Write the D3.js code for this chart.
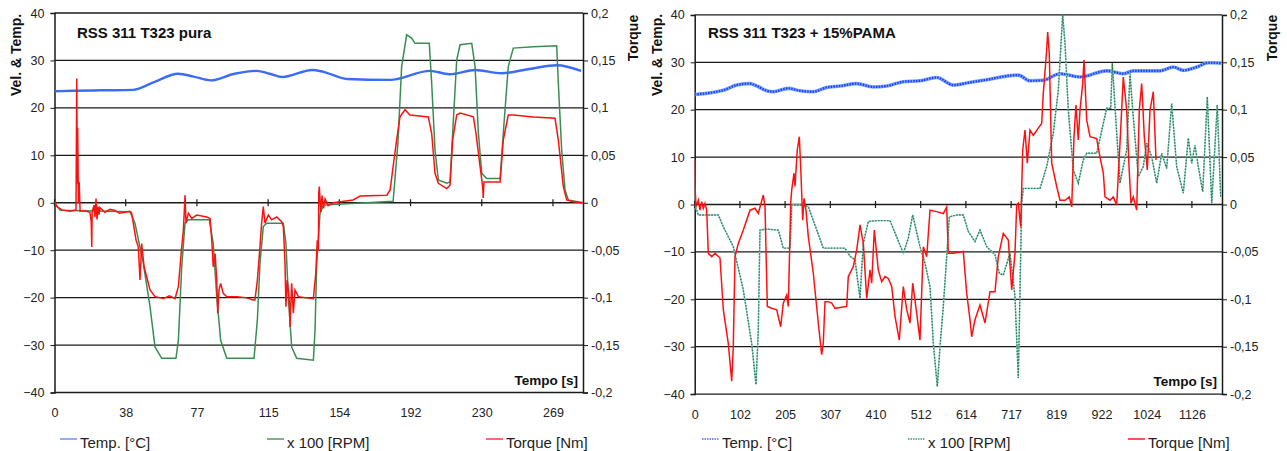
<!DOCTYPE html>
<html>
<head>
<meta charset="utf-8">
<script src="https://cdn.jsdelivr.net/npm/d3@7"></script>
<style>
  body { margin: 0; background: #fff; }
  svg { display: block; font-family: Arial, "Liberation Sans", sans-serif; }
</style>
</head>
<body>
<svg id="chart" width="1287" height="451"></svg>
<script>
// axis ticks
const yTicks = [40, 30, 20, 10, 0, -10, -20, -30, -40];
const torqueTicks = [0.2, 0.15, 0.1, 0.05, 0, -0.05, -0.1, -0.15, -0.2];
const xTicksLeft = [0, 38.4, 76.8, 115.2, 153.6, 192, 230.4, 268.8];
const xTicksRight = [0, 102.4, 204.8, 307.2, 409.6, 512, 614.4, 716.8, 819.2, 921.6, 1024, 1126.4];

const legendNames = ["Temp. [°C]", "x 100 [RPM]", "Torque [Nm]"];

// left chart: RSS 311 T323 pura   [time s, value]
const leftTemp = [
  [0, 23.5], [10, 23.6], [25, 23.7], [42.3, 23.8], [54, 25.5], [66.6, 27.2], [75, 26.6],
  [84.4, 25.8], [97, 27.2], [109, 27.8], [116, 27.2], [123, 26.5], [139, 28.0],
  [145, 27.6], [157.7, 26.1], [181, 25.9], [202.5, 27.8], [213, 27.1], [227, 28.0],
  [241, 27.3], [256, 28.2], [271, 29.0], [284, 27.8]
];
const leftRpm = [
  [0, 0], [3, -1.6], [40.7, -1.9], [43.4, -4.3], [47.9, -12.8], [51.5, -21.9], [54.2, -30.4],
  [57.8, -32.8], [65.5, -32.8], [66.8, -29], [68.6, -13.5], [70.4, -4.3], [72.2, -3.6],
  [83.5, -3.6], [85.6, -8.6], [87.5, -19.8], [89.6, -29], [92.9, -32.8], [107.6, -32.8],
  [109.4, -24.7], [110.8, -12.8], [112.6, -5], [114.4, -4.3], [123.4, -4.3], [124.8, -8.6],
  [126.1, -19.8], [127.9, -30.4], [130.6, -32.8], [139.6, -33.2], [140.5, -26.8],
  [141.4, -12.8], [143.2, -2.2], [145, -0.5], [182.6, 0.3], [185.2, 12.6], [187.2, 28.7],
  [189.9, 35.4], [192.6, 34.7], [194.4, 33.6], [202.1, 33.6], [203.4, 25.2], [205.2, 11.1],
  [207, 4.8], [211.5, 4.1], [213.3, 4.4], [214.7, 14.6], [216.9, 30.1], [218.7, 33.3],
  [225, 33.6], [226.8, 28.7], [228.6, 14.6], [230.4, 6.2], [233.1, 5.1], [240.3, 5.1],
  [242, 14.6], [244.7, 28.7], [247.4, 32.6], [258.2, 32.9], [270.8, 33.1], [271.7, 25.2],
  [273.5, 11.1], [275.3, 2.7], [277.1, 0.6], [285, 0]
];
const leftTorque = [
  [0, 0.0015], [1.3, -0.004], [4, -0.0075], [8.4, -0.009], [11.6, -0.0075], [12, 0.131],
  [12.3, 0.02], [12.5, 0.079], [12.9, 0], [13.3, 0.022], [13.8, -0.009], [16.4, -0.0085],
  [19.1, -0.01], [19.8, -0.02], [20.1, -0.0465], [20.3, -0.01], [21.3, -0.0025],
  [21.8, -0.015], [22.4, 0.0045], [22.9, -0.0175], [23.5, -0.004], [24, -0.0125],
  [24.5, -0.005], [27.2, -0.01], [30, -0.007], [32.6, -0.008], [35, -0.011], [38, -0.01],
  [40.7, -0.009], [41.6, -0.011], [44, -0.0395], [45.2, -0.0465], [46.1, -0.0815],
  [47, -0.043], [48.3, -0.0675], [49.7, -0.078], [51.5, -0.092], [54.2, -0.099],
  [58.7, -0.101], [62, -0.098], [65, -0.101], [66.8, -0.0885], [68.6, -0.0465], [69.5, -0.029],
  [70.4, 0.008], [70.9, -0.0215], [72.2, -0.011], [74, -0.0165], [76.7, -0.013],
  [82.1, -0.015], [83.9, -0.0165], [84.8, -0.0395], [85.6, -0.0675], [86.6, -0.0535],
  [87.5, -0.0815], [88, -0.1165], [88.7, -0.092], [89.6, -0.085], [91, -0.0955],
  [92.9, -0.099], [98.3, -0.099], [103, -0.1], [107.2, -0.1025], [108.1, -0.1025],
  [109.4, -0.0815], [110.8, -0.0465], [111.7, -0.0215], [112.6, -0.004], [113.5, -0.0215],
  [115.3, -0.013], [117.1, -0.018], [119.8, -0.015], [122.5, -0.02], [123.4, -0.025],
  [124.3, -0.064], [124.8, -0.1095], [125.5, -0.0815], [126.6, -0.1025], [127, -0.131],
  [127.9, -0.085], [128.8, -0.1165], [129.7, -0.092], [131.5, -0.099], [135, -0.1],
  [139.6, -0.101], [140.9, -0.0745], [141.7, -0.0395], [142.3, -0.05], [142.5, 0.01],
  [142.8, 0.017], [143.6, -0.01], [144.3, 0.0075], [145.1, -0.006], [145.9, 0.004],
  [147.5, -0.003], [150.2, 0], [161, 0.003], [164.8, 0.007], [179.2, 0.008], [181, 0.0135],
  [182.6, 0.038], [184.5, 0.066], [186.3, 0.0905], [189, 0.098], [191.7, 0.0925],
  [201.6, 0.0905], [203.4, 0.073], [205.2, 0.031], [207, 0.0205], [211.5, 0.015],
  [213.3, 0.0185], [214.7, 0.066], [216.9, 0.0925], [218.7, 0.0945], [225.9, 0.0905],
  [227.3, 0.073], [229.5, 0.038], [230.9, 0.017], [231.2, 0.005], [231.6, 0.022],
  [233.1, 0.022], [240.3, 0.022], [242, 0.066], [244.7, 0.0925], [247.4, 0.0925],
  [258.2, 0.0905], [269.9, 0.089], [271.7, 0.066], [274.4, 0.017], [276.2, 0.003],
  [279.8, 0.001], [285, 0]
];

// right chart: RSS 311 T323 + 15%PAMA
const rightTemp = [
  [0, 23.2], [49.8, 23.8], [64.8, 24.1], [95.2, 25.2], [125.3, 25.5], [140.5, 25.0],
  [163.1, 24.0], [178.1, 23.8], [212.1, 24.5], [238.6, 24.0], [268.7, 23.8], [299, 24.7],
  [329.2, 25.0], [367, 25.5], [404.6, 24.8], [435, 25.0], [472.6, 25.9], [510.4, 26.1],
  [548.2, 26.8], [585.9, 25.2], [619.8, 25.7], [653.8, 26.2], [733.1, 27.3], [759.6, 26.1],
  [789.7, 26.2], [827.6, 27.6], [872.9, 26.9], [933.4, 28.2], [971, 27.6], [993.6, 28.2],
  [1054.1, 28.2], [1084.3, 29.0], [1106.9, 28.3], [1137.3, 29.0], [1163.6, 29.9], [1193.9, 29.8]
];
const rightRpm = [
  [0, 0], [8.2, -2.2], [53.5, -2.2], [64.8, -4.7], [87.4, -8.9], [110.1, -18], [129.1, -29.3],
  [138.9, -38], [144.1, -26.4], [147.9, -5.4], [163.1, -5.2], [189.4, -5.4], [200.7, -9.2],
  [215.9, -9.2], [219.8, -0.1], [246, -0.1], [257.4, -0.5], [291.3, -9.2], [340.5, -9.2],
  [351.8, -10.9], [363.2, -11.7], [374.5, -19.8], [378.3, -13.8], [382, -8.2], [393.3, -3.6],
  [412.3, -3.4], [442.5, -3.4], [472.6, -10.3], [483.9, -7.1], [493.9, -2.2], [510.4, -8.9],
  [521.7, -12.4], [533.1, -17.3], [540.6, -29.3], [549.6, -38.4], [555.7, -30], [563.2, -21.5],
  [570.9, -11], [576.8, -2.6], [593.6, -2.2], [608.5, -2.2], [619.8, -5.7], [635, -7.8],
  [646.3, -5.4], [661.5, -8.9], [680.3, -10.6], [690.1, -14.5], [699.1, -14.9], [714.3, -10.3],
  [725.6, -19.4], [733.1, -36.6], [737, -18], [740.8, 0.25], [744.4, 3.4], [782.3, 3.4],
  [797.4, 8], [812.4, 15], [823.7, 24.1], [833.7, 40], [838.9, 34], [846.4, 19.9],
  [857.7, 7.3], [869, 4.5], [880.4, 9.4], [888.1, 10.8], [910.7, 10.8], [925.7, 17.1],
  [933.4, 20.3], [942.5, 20.3], [946.1, 29.8], [952.2, 20.6], [963.5, 4.5], [971, 8],
  [978.7, 11.5], [986.2, 27.6], [992.3, 19.9], [1005, 5.9], [1016.3, 8], [1024, 12.9],
  [1035.3, 10.1], [1046.6, 4.5], [1058, 10.8], [1069.3, 7.6], [1080.6, 21.3], [1091.9, 8],
  [1106.9, 2.4], [1118.3, 14], [1126, 8.7], [1133.4, 12.5], [1140.9, 8], [1150.9, 2.7],
  [1161.3, 22.7], [1171.3, 0.25], [1183.9, 21], [1191.6, 1.6]
];
const rightTorque = [
  [0, 0.047], [0.7, 0.0205], [2.9, -0.0025], [8.2, 0.0045], [12, -0.006], [15.9, 0.003],
  [19.5, -0.004], [23.3, 0.00125], [27.2, -0.006], [30.8, -0.0515], [38.5, -0.055],
  [46, -0.0515], [57.3, -0.0565], [64.8, -0.111], [76.1, -0.1465], [83.8, -0.1865],
  [87.4, -0.15], [91.3, -0.055], [98.8, -0.041], [110.1, -0.027], [125.3, -0.006],
  [136.6, -0.004], [144.1, -0.0095], [155.4, 0.01], [159.3, -0.0025], [164.5, -0.1075],
  [174.4, -0.1095], [185.8, -0.111], [194.8, -0.129], [200.7, -0.104], [208.4, -0.0955],
  [212.1, -0.1075], [217.5, 0.00125], [219.8, 0.0155], [225, 0.033], [227.3, 0.019],
  [232.4, 0.0575], [237, 0.0715], [240.1, 0.04], [244.7, -0.0165], [247.6, 0.0065],
  [252.1, -0.006], [257.4, -0.034], [268.7, -0.0725], [280, -0.125], [287.7, -0.1585],
  [291.3, -0.1465], [295.2, -0.1025], [302.7, -0.1025], [310.4, -0.104], [317.8, -0.1095],
  [344.4, -0.1075], [348, -0.076], [359.3, -0.0655], [367, -0.048], [374.5, -0.0215],
  [382, -0.041], [389.7, -0.099], [397.2, -0.069], [401, -0.083], [406.9, -0.027],
  [415.9, -0.069], [423.6, -0.0815], [431.1, -0.076], [438.6, -0.078], [446.3, -0.0865],
  [453.8, -0.118], [463.5, -0.143], [472.6, -0.0865], [480.3, -0.111], [487.8, -0.125],
  [493.9, -0.083], [502.9, -0.1145], [510.4, -0.143], [517.9, -0.0445], [525.6, -0.055],
  [533.1, -0.006], [548.2, -0.0075], [563.2, -0.0095], [570.9, -0.0025], [574.5, -0.0515],
  [585.9, -0.0515], [608.5, -0.0495], [616.2, -0.0935], [623.7, -0.1215], [627.5, -0.1395],
  [635, -0.1215], [646.3, -0.106], [657.7, -0.125], [669, -0.092], [680.3, -0.092],
  [687.8, -0.055], [699.1, -0.0305], [710.5, -0.0375], [718.2, -0.09], [725.6, -0.0515],
  [729.5, -0.0005], [733.1, 0.00125], [738.5, -0.0235], [743.1, 0.0575], [748.3, 0.0785],
  [753.5, 0.0435], [759.6, 0.0785], [767.1, 0.073], [778.4, 0.0805], [786.1, 0.0855],
  [789.7, 0.117], [797.4, 0.163], [799.7, 0.182], [803.3, 0.1595], [808.8, 0.0435],
  [820.1, 0.019], [827.6, 0.0045], [838.9, 0.0045], [848.7, 0.008], [854.1, -0.0025],
  [859.3, 0.0715], [863.8, 0.105], [869, 0.068], [872.9, 0.0995], [879, 0.1275],
  [882, 0.1525], [888.1, 0.089], [895.6, 0.0715], [910.7, 0.0695], [916.6, 0.054],
  [925.7, 0.033], [929.5, 0.008], [940.8, 0.0045], [948.3, 0.008], [956, -0.0005],
  [963.5, 0.0645], [971, 0.1345], [978.7, 0.0995], [983.9, 0.04], [988.4, 0.00125],
  [993.6, 0.008], [1001.3, -0.006], [1007.2, 0.0995], [1012.7, 0.1275], [1018.6, 0.0715],
  [1025.4, 0.0365], [1031.5, 0.0995], [1039, 0.119], [1045.1, 0.047]
];

const svg = d3.select("#chart");
const commaFmt = d => String(d).replace(".", ",");

function drawChart(cfg) {
  const g = svg.append("g");
  const x = d3.scaleLinear().domain([0, cfg.tMax]).range([cfg.left, cfg.right]);
  const y = d3.scaleLinear().domain([-40, 40]).range([cfg.bottom, cfg.top]);
  const yT = d3.scaleLinear().domain([-0.2, 0.2]).range([cfg.bottom, cfg.top]);

  // gridlines
  g.selectAll("line.grid").data(yTicks).join("line")
    .attr("class", "grid")
    .attr("x1", cfg.left).attr("x2", cfg.right)
    .attr("y1", d => y(d)).attr("y2", d => y(d))
    .attr("stroke", "#1a1a1a").attr("stroke-width", 1.3);

  // left axis
  const axL = g.append("g")
    .attr("transform", `translate(${cfg.left},0)`)
    .call(d3.axisLeft(y).tickValues(yTicks).tickSize(4).tickPadding(6).tickFormat(d3.format("d")));
  // right axis
  const axR = g.append("g")
    .attr("transform", `translate(${cfg.right},0)`)
    .call(d3.axisRight(yT).tickValues(torqueTicks).tickSize(5).tickPadding(3).tickFormat(commaFmt));
  [axL, axR].forEach(a => {
    a.select(".domain").attr("stroke", "#1a1a1a").attr("stroke-width", 1.5);
    a.selectAll(".tick line").attr("stroke", "#1a1a1a");
    a.selectAll("text").attr("fill", "#222").style("font-size", "12.5px");
  });

  // x tick labels along the bottom
  const axB = g.append("g")
    .attr("transform", `translate(0,${cfg.bottom})`)
    .call(d3.axisBottom(x).tickValues(cfg.xTicks).tickSize(0).tickPadding(16).tickFormat(d => Math.round(d)));
  axB.select(".domain").remove();
  axB.selectAll("text").attr("fill", "#222").style("font-size", "12.5px");

  // crossing ticks on the zero line
  g.selectAll("line.xtick").data(cfg.xTicks).join("line")
    .attr("class", "xtick")
    .attr("x1", d => x(d)).attr("x2", d => x(d))
    .attr("y1", y(0) - 3.5).attr("y2", y(0) + 3.5)
    .attr("stroke", "#1a1a1a").attr("stroke-width", 1.2);

  const lineV = d3.line().x(d => x(d[0])).y(d => y(d[1]));
  const lineTemp = d3.line().curve(d3.curveMonotoneX).x(d => x(d[0])).y(d => y(d[1]));
  const lineT = d3.line().x(d => x(d[0])).y(d => yT(d[1]));

  const clipId = "clip" + cfg.id;
  g.append("clipPath").attr("id", clipId).append("rect")
    .attr("x", cfg.left).attr("y", cfg.top - 1)
    .attr("width", cfg.right - cfg.left).attr("height", cfg.bottom - cfg.top + 2);
  const plot = g.append("g").attr("clip-path", `url(#${clipId})`);

  if (cfg.dotted) {
    plot.append("path").datum(cfg.temp).attr("d", lineTemp)
      .attr("fill", "none").attr("stroke", "#79a6ff").attr("stroke-width", 3.6);
    plot.append("path").datum(cfg.temp).attr("d", lineTemp)
      .attr("fill", "none").attr("stroke", "#1f3ff0").attr("stroke-width", 2.2)
      .attr("stroke-dasharray", "1.5,1.2");
    plot.append("path").datum(cfg.rpm).attr("d", lineV)
      .attr("fill", "none").attr("stroke", "#8fd3d3").attr("stroke-width", 1.4);
    plot.append("path").datum(cfg.rpm).attr("d", lineV)
      .attr("fill", "none").attr("stroke", "#2d7d48").attr("stroke-width", 1.4)
      .attr("stroke-dasharray", "1.5,1.5");
  } else {
    plot.append("path").datum(cfg.temp).attr("d", lineTemp)
      .attr("fill", "none").attr("stroke", "#3b6cf6").attr("stroke-width", 2.4);
    plot.append("path").datum(cfg.rpm).attr("d", lineV)
      .attr("fill", "none").attr("stroke", "#3a8d52").attr("stroke-width", 1.5);
  }
  plot.append("path").datum(cfg.torque).attr("d", lineT)
    .attr("fill", "none").attr("stroke", "#ff1010").attr("stroke-width", 1.5);

  // titles
  g.append("text").attr("x", cfg.titleX).attr("y", 37.5)
    .style("font-size", "15px").style("font-weight", "bold").attr("fill", "#111")
    .text(cfg.title);
  g.append("text").attr("x", cfg.right - 5).attr("y", cfg.bottom - 8)
    .attr("text-anchor", "end")
    .style("font-size", "13.5px").style("font-weight", "bold").attr("fill", "#111")
    .text("Tempo [s]");
  g.append("text")
    .attr("transform", `translate(${cfg.left - 38},55) rotate(-90)`)
    .attr("text-anchor", "middle").attr("dy", "0.35em")
    .style("font-size", "14px").style("font-weight", "bold").attr("fill", "#111")
    .text("Vel. & Temp.");
  g.append("text")
    .attr("transform", `translate(${cfg.right + 50},38) rotate(-90)`)
    .attr("text-anchor", "middle").attr("dy", "0.35em")
    .style("font-size", "14px").style("font-weight", "bold").attr("fill", "#111")
    .text("Torque");

  // legend (bottom edge cut, as in the source)
  const leg = g.selectAll("g.leg").data(legendNames).join("g")
    .attr("class", "leg")
    .attr("transform", (d, i) => `translate(${cfg.legendX[i]},0)`);
  leg.append("line")
    .attr("x1", 0).attr("x2", 17).attr("y1", 439).attr("y2", 439)
    .attr("stroke", (d, i) => cfg.legendColors[i]).attr("stroke-width", 1.5)
    .attr("stroke-dasharray", (d, i) => cfg.dotted && i < 2 ? "1.5,1" : null);
  leg.append("text")
    .attr("x", 20).attr("y", 448)
    .style("font-size", "15px").attr("fill", "#222")
    .text(d => d);
}

drawChart({
  id: "L", left: 54.5, right: 583, top: 13, bottom: 392.5, tMax: 285,
  xTicks: xTicksLeft, temp: leftTemp, rpm: leftRpm, torque: leftTorque,
  title: "RSS 311 T323 pura", titleX: 77, dotted: false,
  legendX: [60, 267, 486], legendColors: ["#6f93f2", "#4e9a66", "#ff3b3b"]
});
drawChart({
  id: "R", left: 694.7, right: 1222, top: 14.9, bottom: 394.1, tMax: 1194.6,
  xTicks: xTicksRight, temp: rightTemp, rpm: rightRpm, torque: rightTorque,
  title: "RSS 311 T323 + 15%PAMA", titleX: 708, dotted: true,
  legendX: [702, 908, 1128], legendColors: ["#4a6cf0", "#3f9a6a", "#ff1a1a"]
});
</script>
</body>
</html>
